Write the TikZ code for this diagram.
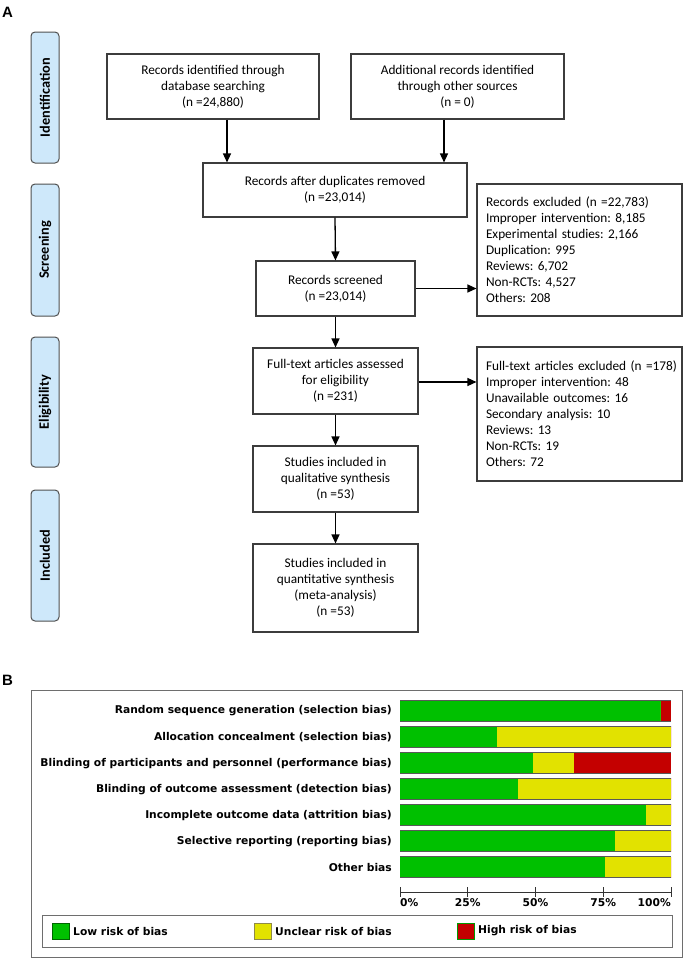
\documentclass[tikz,border=0pt]{standalone}
\usepackage{fontspec}
\setmainfont{Carlito}
\newfontfamily\chartfont{DejaVu Sans}
\newfontfamily\panelfont{Liberation Sans}
\usetikzlibrary{arrows.meta}
\definecolor{boxgray}{RGB}{60,60,60}
\definecolor{phaseblue}{RGB}{206,232,250}
\definecolor{phasegray}{RGB}{80,80,80}
\definecolor{lowc}{RGB}{0,192,0}
\definecolor{uncc}{RGB}{226,226,0}
\definecolor{highc}{RGB}{196,0,0}
\definecolor{framegray}{RGB}{110,110,110}
\frenchspacing
\begin{document}
\begin{tikzpicture}[x=1pt,y=-1pt,
  box/.style={draw=boxgray, line width=1.1pt, fill=white, align=center, inner sep=0pt,
    font=\fontsize{13.3}{16}\selectfont},
  exbox/.style={draw=boxgray, line width=1.1pt, fill=white, align=left, inner xsep=9pt, inner ysep=0pt,
    text width=187pt, font=\fontsize{13.3}{16}\selectfont},
  phase/.style={draw=phasegray, fill=phaseblue, rounded corners=4pt, line width=1pt, rotate=90,
    minimum height=28pt, inner sep=0pt, font=\bfseries\fontsize{14.3}{16}\selectfont},
  arr/.style={-{Triangle[length=9pt,width=8pt]}, line width=1.3pt, draw=black},
  panel/.style={font=\panelfont\bfseries\fontsize{15}{18}\selectfont, inner sep=0pt},
  clab/.style={font=\chartfont\bfseries\fontsize{10.7}{13}\selectfont, inner sep=0pt},
  barline/.style={draw=black!65, line width=0.7pt}
]
\useasboundingbox (0,0) rectangle (685,959);

% ---------- Panel A ----------
\node[panel, anchor=north west] (pA) at (2,7) {A};

\node[phase, minimum width=131pt] (ph1) at (45,97.5) {Identification};
\node[phase, minimum width=132pt] (ph2) at (45,250) {Screening};
\node[phase, minimum width=130pt] (ph3) at (45,402) {Eligibility};
\node[phase, minimum width=131pt] (ph4) at (45,555.5) {Included};

\node[box, minimum width=212pt, minimum height=65pt] (db) at (213,86.5)
  {Records identified through\\database searching\\(n =24,880)};
\node[box, minimum width=213pt, minimum height=65pt] (oth) at (457.5,86.5)
  {Additional records identified\\through other sources\\(n = 0)};
\node[box, minimum width=264pt, minimum height=54pt] (dup) at (335,190)
  {Records after duplicates removed\\(n =23,014)};
\node[box, minimum width=159pt, minimum height=55pt] (scr) at (335.5,288.5)
  {Records screened\\(n =23,014)};
\node[exbox, minimum height=132pt] (ex1) at (579.5,250)
  {\mbox{Records excluded (n =22,783)}\\Improper intervention: 8,185\\Experimental studies: 2,166\\Duplication: 995\\Reviews: 6,702\\Non-RCTs: 4,527\\Others: 208};
\node[box, minimum width=165pt, minimum height=66pt] (ft) at (335.5,381)
  {Full-text articles assessed\\for eligibility\\(n =231)};
\node[exbox, minimum height=134pt] (ex2) at (579.5,414)
  {\mbox{Full-text articles excluded (n =178)}\\Improper intervention: 48\\Unavailable outcomes: 16\\Secondary analysis: 10\\Reviews: 13\\Non-RCTs: 19\\Others: 72};
\node[box, minimum width=165pt, minimum height=66pt] (qual) at (335.5,479)
  {Studies included in\\qualitative synthesis\\(n =53)};
\node[box, minimum width=165pt, minimum height=88pt] (quant) at (335.5,588)
  {Studies included in\\quantitative synthesis\\(meta-analysis)\\(n =53)};

\draw[arr] ([xshift=14pt]db.south) -- ([xshift=14pt]db.south |- dup.north);
\draw[arr] ([xshift=-13.5pt]oth.south) -- ([xshift=-13.5pt]oth.south |- dup.north);
\draw[arr] (dup.south) -- (scr.north);
\draw[arr] (scr.east) -- (scr.east -| ex1.west);
\draw[arr] (scr.south) -- (ft.north);
\draw[arr] ([yshift=-1pt]ft.east) -- ([yshift=-1pt]ft.east -| ex2.west);
\draw[arr] (ft.south) -- (qual.north);
\draw[arr] (qual.south) -- (quant.north);

% ---------- Panel B ----------
\node[panel, anchor=north west] (pB) at (2,675) {B};
\draw[framegray, line width=1pt] (31,690) rectangle (682,957);

\foreach \i/\g/\u/\lab in {
  1/96.2/0/{Random sequence generation (selection bias)},
  2/35.8/64.2/{Allocation concealment (selection bias)},
  3/49.1/15.1/{Blinding of participants and personnel (performance bias)},
  4/43.4/56.6/{Blinding of outcome assessment (detection bias)},
  5/90.6/9.4/{Incomplete outcome data (attrition bias)},
  6/79.2/20.8/{Selective reporting (reporting bias)},
  7/75.5/24.5/{Other bias}}{
  \pgfmathsetmacro\yt{700+26.1*(\i-1)}
  \pgfmathsetmacro\xg{400+2.71*\g}
  \pgfmathsetmacro\xu{400+2.71*(\g+\u)}
  \fill[lowc] (400,\yt) rectangle (\xg,\yt+21);
  \fill[uncc] (\xg,\yt) rectangle (\xu,\yt+21);
  \fill[highc] (\xu,\yt) rectangle (671,\yt+21);
  \draw[barline] (400,\yt) -- (671,\yt);
  \draw[barline] (400,\yt+21) -- (671,\yt+21);
  \node[clab, anchor=east] (lab\i) at (392,\yt+11) {\lab};
}

\draw[black!80, line width=0.9pt] (400,892) -- (671,892);
\foreach \p in {0,25,50,75,100}{
  \draw[black!80, line width=0.9pt] ({400+2.71*\p},887) -- ({400+2.71*\p},897);
}
\node[clab, anchor=west] (t0) at (400,903) {0\%};
\node[clab] (t25) at (467.75,903) {25\%};
\node[clab] (t50) at (535.5,903) {50\%};
\node[clab] (t75) at (603.25,903) {75\%};
\node[clab, anchor=east] (t100) at (671,903) {100\%};

\draw[framegray, line width=1pt] (42,915) rectangle (672,947);
\filldraw[fill=lowc, draw=black!60!green, line width=0.6pt] (52,923) rectangle (69,939);
\filldraw[fill=uncc, draw=black!50!yellow, line width=0.6pt] (254,923) rectangle (271,939);
\filldraw[fill=highc, draw=black!40!green, line width=0.6pt] (457,923) rectangle (474,939);
\node[clab, anchor=west] (lg1) at (73,931) {Low risk of bias};
\node[clab, anchor=west] (lg2) at (275,931) {Unclear risk of bias};
\node[clab, anchor=west] (lg3) at (478,931) {High risk of bias};
\end{tikzpicture}
\end{document}
